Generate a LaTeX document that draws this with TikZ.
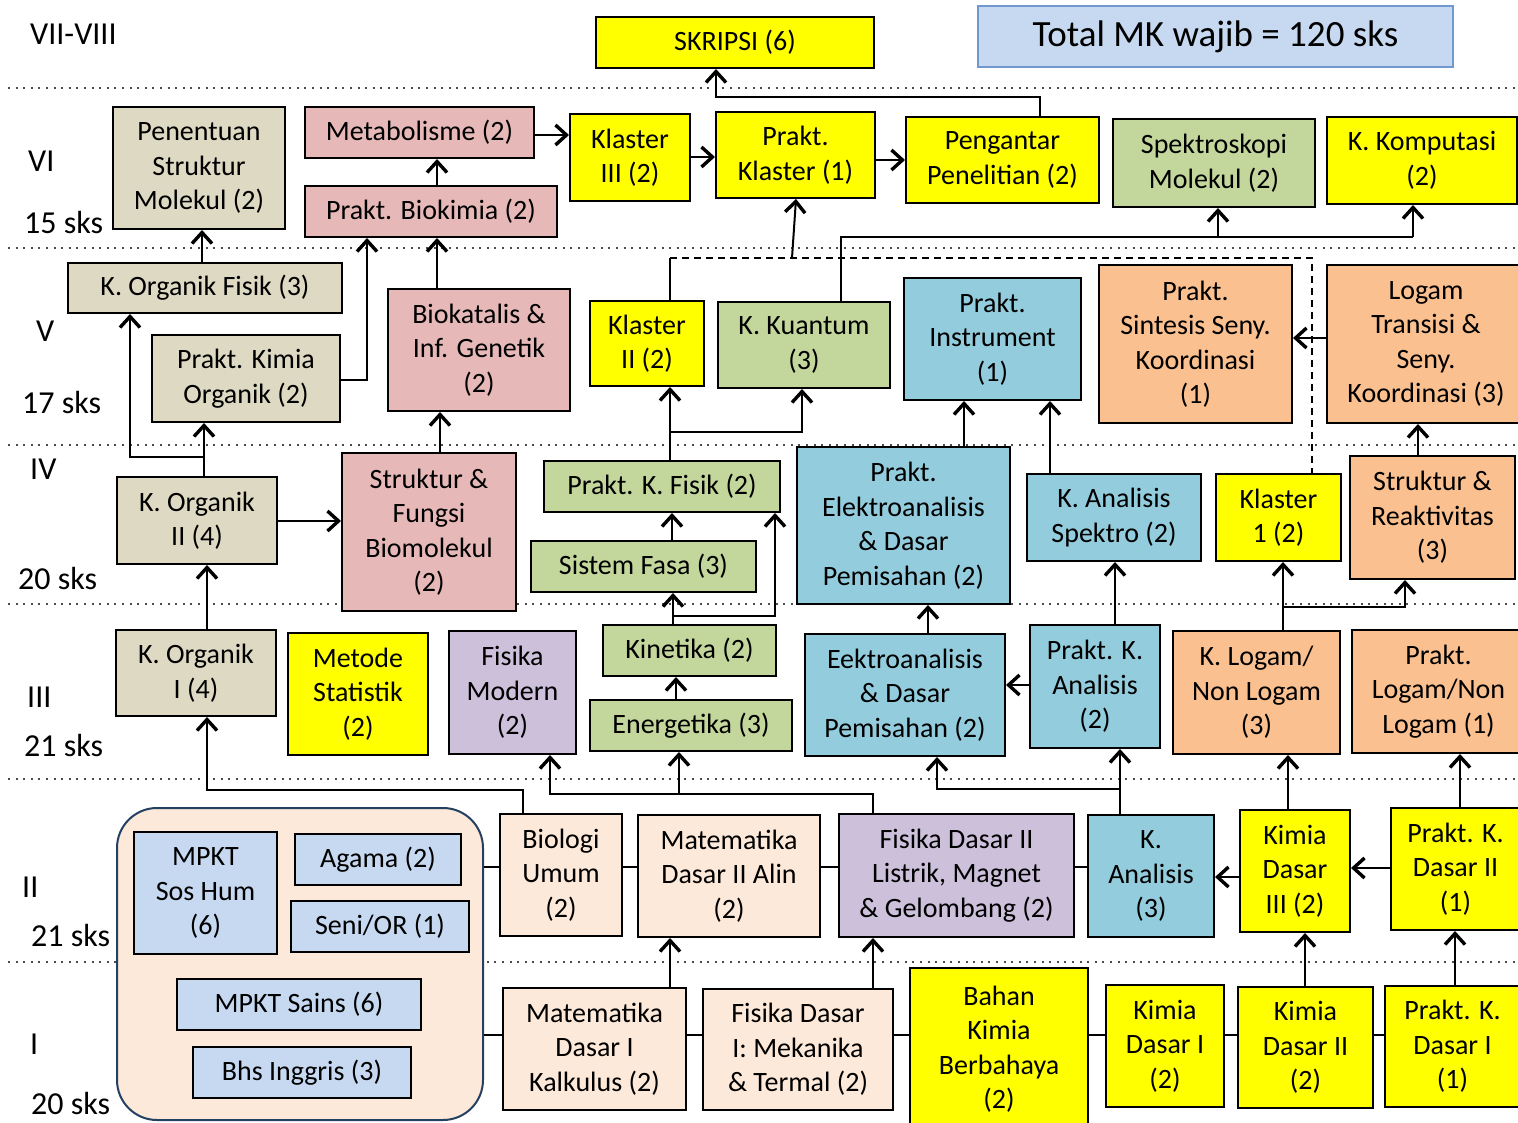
\documentclass[tikz,border=0pt]{standalone}
\usepackage{fontspec}
\setmainfont{Carlito}
\usetikzlibrary{arrows.meta}
\definecolor{cyel}{HTML}{FFFF00}
\definecolor{ctan}{HTML}{DDD9C3}
\definecolor{cpink}{HTML}{E6B9B8}
\definecolor{cgrn}{HTML}{C3D69B}
\definecolor{cblu}{HTML}{93CDDD}
\definecolor{corg}{HTML}{FAC090}
\definecolor{clav}{HTML}{CCC0DA}
\definecolor{cpch}{HTML}{FDE9D9}
\definecolor{clbl}{HTML}{C6D9F1}
\definecolor{cnavy}{HTML}{244061}
\definecolor{ctotb}{HTML}{7098CE}
\tikzset{
 box/.style={draw=black, line width=2pt, inner sep=0pt, align=center, font=\fontsize{28}{34.5}\selectfont},
 lab/.style={anchor=west, inner sep=0pt, font=\fontsize{32}{36}\selectfont},
 ln/.style={line width=2pt, draw=black},
 arr/.style={ln, -{Straight Barb[length=11pt,width=20pt,line width'=3.4pt]}},
 dotrow/.style={line width=2pt, dash pattern=on 2pt off 5.6pt, draw=black!70},
 dsh/.style={line width=2pt, dash pattern=on 7pt off 5pt},
}
\newcommand\mkbox[7]{\node[box,fill=#6,minimum width={(#4)-(#2)},minimum height={(#5)-(#3)}] (#1) at ({((#2)+(#4))/2},{((#3)+(#5))/2}) {#7};}
\begin{document}
\begin{tikzpicture}[x=1pt,y=-1pt]
\useasboundingbox (0,0) rectangle (1518,1123);
\foreach \yy in {88,248,445,604,779,962} \draw[dotrow] (8,\yy) -- (1518,\yy);
% row labels
\node[lab] (l8) at (30,34) {VII-VIII};
\node[lab] (l6) at (28,161) {VI};
\node[lab] (s6) at (24,223) {15 sks};
\node[lab] (l5) at (36,331) {V};
\node[lab] (s5) at (22,403) {17 sks};
\node[lab] (l4) at (30,469) {IV};
\node[lab] (s4) at (18,579) {20 sks};
\node[lab] (l3) at (27,697) {III};
\node[lab] (s3) at (24,746) {21 sks};
\node[lab] (l2) at (22,887) {II};
\node[lab] (s2) at (31,936) {21 sks};
\node[lab] (l1) at (30,1044) {I};
\node[lab] (s1) at (31,1103) {20 sks};
% top
\node[draw=ctotb, fill=clbl, line width=2pt, minimum width=475, minimum height=61, inner sep=0pt, font=\fontsize{37}{42}\selectfont] (tot) at (1215.5,36.5) {\raisebox{-4pt}{Total MK wajib = 120 sks}};
\mkbox{sk}{596}{17}{874}{68}{cyel}{SKRIPSI (6)}
% VI
\mkbox{pen}{113}{107}{285}{229}{ctan}{Penentuan\\Struktur\\Molekul (2)}
\mkbox{met}{305}{107}{534}{158}{cpink}{Metabolisme (2)}
\mkbox{pbk}{305}{186}{557}{237}{cpink}{Prakt. Biokimia (2)}
\mkbox{k3}{570}{114}{690}{201}{cyel}{Klaster\\III (2)}
\mkbox{pkl}{716}{112}{875}{198}{cyel}{Prakt.\\Klaster (1)}
\mkbox{ppen}{906}{117}{1099}{203}{cyel}{Pengantar\\Penelitian (2)}
\mkbox{spek}{1113}{119}{1315}{207}{cgrn}{Spektroskopi\\Molekul (2)}
\mkbox{komp}{1327}{117}{1517}{204}{cyel}{K. Komputasi\\(2)}
% V
\mkbox{kof}{68}{263}{342}{313}{ctan}{K. Organik Fisik (3)}
\mkbox{pko}{152}{335}{340}{422}{ctan}{Prakt. Kimia\\Organik (2)}
\mkbox{bio}{388}{289}{570}{411}{cpink}{Biokatalis \&\\Inf. Genetik\\(2)}
\mkbox{k2}{590}{301}{704}{386}{cyel}{Klaster\\II (2)}
\mkbox{kku}{718}{302}{890}{388}{cgrn}{K. Kuantum\\(3)}
\mkbox{pin}{904}{278}{1081}{400}{cblu}{Prakt.\\Instrument\\(1)}
\mkbox{psk}{1099}{265}{1292}{423}{corg}{Prakt.\\Sintesis Seny.\\Koordinasi\\(1)}
\mkbox{ltr}{1327}{265}{1525}{423}{corg}{Logam\\Transisi \&\\Seny.\\Koordinasi (3)}
% IV
\mkbox{ko2}{117}{477}{277}{564}{ctan}{K. Organik\\II (4)}
\mkbox{sfb}{342}{453}{516}{611}{cpink}{Struktur \&\\Fungsi\\Biomolekul\\(2)}
\mkbox{pkf}{544}{461}{780}{512}{cgrn}{Prakt. K. Fisik (2)}
\mkbox{sfa}{531}{541}{756}{592}{cgrn}{Sistem Fasa (3)}
\mkbox{pel}{797}{447}{1010}{604}{cblu}{Prakt.\\Elektroanalisis\\\& Dasar\\Pemisahan (2)}
\mkbox{kas}{1027}{474}{1201}{561}{cblu}{K. Analisis\\Spektro (2)}
\mkbox{kl1}{1216}{474}{1341}{561}{cyel}{Klaster\\1 (2)}
\mkbox{srk}{1350}{456}{1515}{579}{corg}{Struktur \&\\Reaktivitas\\(3)}
% III
\mkbox{ko1}{116}{630}{276}{716}{ctan}{K. Organik\\I (4)}
\mkbox{mst}{288}{633}{428}{755}{cyel}{Metode\\Statistik\\(2)}
\mkbox{fmo}{449}{631}{576}{754}{clav}{Fisika\\Modern\\(2)}
\mkbox{kin}{603}{625}{776}{676}{cgrn}{Kinetika (2)}
\mkbox{ene}{590}{700}{792}{751}{cgrn}{Energetika (3)}
\mkbox{eda}{805}{634}{1005}{756}{cblu}{Eektroanalisis\\\& Dasar\\Pemisahan (2)}
\mkbox{pka}{1030}{625}{1160}{748}{cblu}{Prakt. K.\\Analisis\\(2)}
\mkbox{kln}{1173}{631}{1340}{754}{corg}{K. Logam/\\Non Logam\\(3)}
\mkbox{pln}{1352}{630}{1525}{753}{corg}{Prakt.\\Logam/Non\\Logam (1)}
% II
\node[draw=cnavy, fill=cpch, line width=2pt, rounded corners=40pt, minimum width=366, minimum height=312, inner sep=0pt] (grp) at (300,964) {};
\mkbox{mps}{134}{832}{277}{954}{clbl}{MPKT\\Sos Hum\\(6)}
\mkbox{aga}{295}{834}{461}{885}{clbl}{Agama (2)}
\mkbox{sen}{291}{901}{469}{952}{clbl}{Seni/OR (1)}
\mkbox{mpk}{177}{979}{421}{1030}{clbl}{MPKT Sains (6)}
\mkbox{bhs}{193}{1047}{411}{1098}{clbl}{Bhs Inggris (3)}
\mkbox{bum}{500}{814}{622}{936}{cpch}{Biologi\\Umum\\(2)}
\mkbox{md2}{638}{815}{820}{937}{cpch}{Matematika\\Dasar II Alin\\(2)}
\mkbox{fd2}{839}{814}{1074}{937}{clav}{Fisika Dasar II\\Listrik, Magnet\\\& Gelombang (2)}
\mkbox{kan}{1088}{815}{1214}{937}{cblu}{K.\\Analisis\\(3)}
\mkbox{kd3}{1240}{810}{1350}{932}{cyel}{Kimia\\Dasar\\III (2)}
\mkbox{pd2}{1391}{808}{1520}{930}{cyel}{Prakt. K.\\Dasar II\\(1)}
% I
\mkbox{md1}{503}{988}{686}{1110}{cpch}{Matematika\\Dasar I\\Kalkulus (2)}
\mkbox{fd1}{703}{989}{893}{1110}{cpch}{Fisika Dasar\\I: Mekanika\\\& Termal (2)}
\mkbox{bkb}{910}{968}{1088}{1130}{cyel}{Bahan\\Kimia\\Berbahaya\\(2)}
\mkbox{kd1}{1106}{985}{1224}{1107}{cyel}{Kimia\\Dasar I\\(2)}
\mkbox{kdd2}{1238}{987}{1373}{1108}{cyel}{Kimia\\Dasar II\\(2)}
\mkbox{pd1}{1385}{986}{1520}{1107}{cyel}{Prakt. K.\\Dasar I\\(1)}
% ---- connectors ----
\foreach \a/\b in {grp/md1, md1/fd1, fd1/bkb, bkb/kd1, kd1/kdd2, kdd2/pd1} \draw[ln] (\a.east|-0,1035) -- (\b.west|-0,1035);
\foreach \a/\b in {grp/bum, bum/md2, md2/fd2, fd2/kan} \draw[ln] (\a.east|-0,867) -- (\b.west|-0,867);
\draw[arr] (kd3.west|-0,877) -- (kan.east|-0,877);
\draw[arr] (pd2.west|-0,868) -- (kd3.east|-0,868);
\draw[arr] (670,0|-md1.north) -- (670,0|-md2.south);
\draw[arr] (873,0|-fd1.north) -- (873,0|-fd2.south);
\draw[arr] (1305,0|-kdd2.north) -- (1305,0|-kd3.south);
\draw[arr] (1455,0|-pd1.north) -- (1455,0|-pd2.south);
\draw[arr] (523,0|-bum.north) -- (523,790) -- (207,790) -- (207,0|-ko1.south);
\coordinate (jE) at (679,794);
\draw[arr] (873,0|-fd2.north) -- (873,794) -- (550,794) -- (550,0|-fmo.south);
\draw[arr] (jE) -- (jE|-ene.south);
\coordinate (jA) at (1120,789);
\draw[arr] (1120,0|-kan.north) -- (1120,0|-pka.south);
\draw[arr] (jA) -- (937,789) -- (937,0|-eda.south);
\draw[arr] (1288,0|-kd3.north) -- (1288,0|-kln.south);
\draw[arr] (1460,0|-pd2.north) -- (1460,0|-pln.south);
% III -> IV
\draw[arr] (207,0|-ko1.north) -- (207,0|-ko2.south);
\draw[arr] (676,0|-ene.north) -- (676,0|-kin.south);
\draw[arr] (673,0|-kin.north) -- (673,0|-sfa.south);
\draw[arr] (673,616) -- (775,616) -- (775,0|-pkf.south);
\draw[arr] (672,0|-sfa.north) -- (672,0|-pkf.south);
\draw[arr] (928,0|-eda.north) -- (928,0|-pel.south);
\draw[arr] (pka.west|-0,685) -- (eda.east|-0,685);
\draw[arr] (1115,0|-pka.north) -- (1115,0|-kas.south);
\draw[arr] (1283,0|-kln.north) -- (1283,0|-kl1.south);
\draw[arr] (1283,607) -- (1405,607) -- (1405,0|-srk.south);
% IV -> V
\draw[arr] (204,0|-ko2.north) -- (204,0|-pko.south);
\draw[arr] (204,457) -- (130,457) -- (130,0|-kof.south);
\draw[arr] (ko2.east|-0,521) -- (sfb.west|-0,521);
\draw[arr] (440,0|-sfb.north) -- (440,0|-bio.south);
\draw[arr] (670,0|-pkf.north) -- (670,0|-k2.south);
\draw[arr] (670,432) -- (802,432) -- (802,0|-kku.south);
\draw[arr] (964,0|-pel.north) -- (964,0|-pin.south);
\draw[arr] (1050,0|-kas.north) -- (1050,0|-pin.south);
\draw[arr] (1418,0|-srk.north) -- (1418,0|-ltr.south);
\draw[arr] (ltr.west|-0,338) -- (psk.east|-0,338);
\draw[ln] (670,0|-k2.north) -- (670,258);
\draw[dsh] (670,258) -- (1312,258) -- (1312,0|-kl1.north);
\draw[arr] (792,258) -- (796,0|-pkl.south);
\draw[ln] (841,0|-kku.north) -- (841,237) -- (1413,237);
\draw[arr] (1218,237) -- (1218,0|-spek.south);
\draw[arr] (1413,237) -- (1413,0|-komp.south);
% V -> VI
\draw[arr] (202,0|-kof.north) -- (202,0|-pen.south);
\draw[arr] (pko.east|-0,380) -- (367,380) -- (367,0|-pbk.south);
\draw[arr] (437,0|-bio.north) -- (437,0|-pbk.south);
\draw[arr] (437,0|-pbk.north) -- (437,0|-met.south);
\draw[arr] (met.east|-0,135) -- (k3.west|-0,135);
\draw[arr] (k3.east|-0,157) -- (pkl.west|-0,157);
\draw[arr] (pkl.east|-0,160) -- (ppen.west|-0,160);
\draw[arr] (1040,0|-ppen.north) -- (1040,97) -- (716,97) -- (716,0|-sk.south);
\end{tikzpicture}
\end{document}
